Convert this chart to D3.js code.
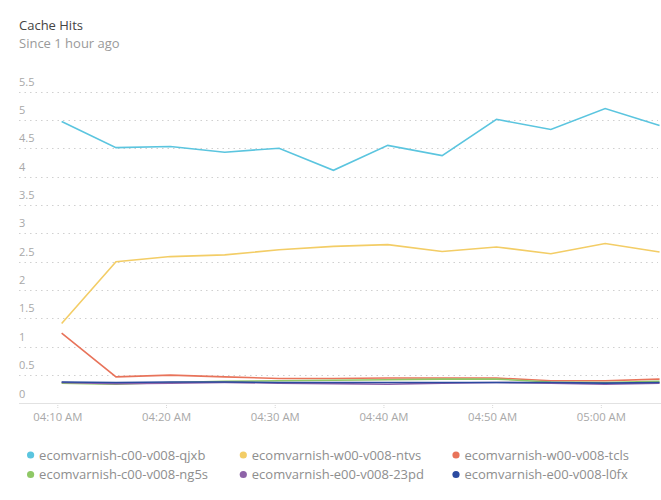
<!DOCTYPE html>
<html lang="en">
<head>
  <meta charset="UTF-8">
  <title>Cache Hits</title>
  <style>
    body{ margin: 0; background: #fff; }
    .warp{ width: 661px; height: 500px; }
    text{ font-family: "Open Sans", sans-serif; }
  </style>
</head>
<body>
  <div class="warp"></div>
  <script src="https://cdn.jsdelivr.net/npm/d3@7"></script>
  <script>
    // 12 samples, every 5 minutes starting 04:10:24
    var times = ['04:10:24','04:15:24','04:20:24','04:25:24','04:30:24','04:35:24',
                 '04:40:24','04:45:24','04:50:24','04:55:24','05:00:24','05:05:24'];
    var names = ['ecomvarnish-c00-v008-qjxb','ecomvarnish-w00-v008-ntvs','ecomvarnish-w00-v008-tcls',
                 'ecomvarnish-c00-v008-ng5s','ecomvarnish-e00-v008-23pd','ecomvarnish-e00-v008-l0fx'];
    var colors = ['#5bc5df','#f3cd66','#e8735a','#8fc866','#8e63a8','#2b4aa0'];
    var qjxb = [4.97, 4.51, 4.53, 4.43, 4.50, 4.11, 4.55, 4.37, 5.01, 4.83, 5.20, 4.90];
    var ntvs = [1.41, 2.50, 2.59, 2.62, 2.71, 2.77, 2.80, 2.68, 2.76, 2.64, 2.82, 2.67];
    var tcls = [1.24, 0.47, 0.50, 0.47, 0.44, 0.44, 0.45, 0.45, 0.45, 0.40, 0.40, 0.43];
    var ng5s = [0.36, 0.34, 0.37, 0.39, 0.40, 0.41, 0.42, 0.43, 0.43, 0.38, 0.37, 0.39];
    var p23pd = [0.37, 0.35, 0.36, 0.37, 0.36, 0.35, 0.34, 0.36, 0.37, 0.36, 0.34, 0.36];
    var l0fx = [0.38, 0.37, 0.38, 0.38, 0.37, 0.37, 0.37, 0.37, 0.37, 0.37, 0.36, 0.37];
    var yTicks = [0, 0.5, 1, 1.5, 2, 2.5, 3, 3.5, 4, 4.5, 5, 5.5];
    var xTicks = ['04:10','04:20','04:30','04:40','04:50','05:00'];

    var series = [qjxb, ntvs, tcls, ng5s, p23pd, l0fx];
    var parse = d3.timeParse('%H:%M:%S');
    var parseTick = d3.timeParse('%H:%M');

    var svg = d3.select('.warp').append('svg')
      .attr('width', 661).attr('height', 500);

    svg.append('text').attr('x', 19).attr('y', 30)
      .attr('font-size', 13).attr('fill', '#444').text('Cache Hits');
    svg.append('text').attr('x', 19).attr('y', 48)
      .attr('font-size', 13).attr('fill', '#9a9a9a').text('Since 1 hour ago');

    var left = 19, right = 661;
    var x = d3.scaleTime()
      .domain([parseTick('04:10'), parseTick('05:05')])
      .range([57.3, 655.2]);
    var y = d3.scaleLinear().domain([0, 5.5]).range([403.5, 91.5]);

    // grid + y labels
    var grid = svg.append('g');
    grid.selectAll('line').data(yTicks.slice(1)).enter().append('line')
      .attr('x1', left).attr('x2', right - 3)
      .attr('y1', function(d){ return Math.round(y(d)) + 0.5; })
      .attr('y2', function(d){ return Math.round(y(d)) + 0.5; })
      .attr('stroke', '#d0d0d0').attr('stroke-width', 1.2)
      .attr('stroke-dasharray', '1.5,4');
    grid.selectAll('text').data(yTicks).enter().append('text')
      .attr('x', left).attr('y', function(d){ return y(d) - 6; })
      .attr('font-size', 11).attr('fill', '#a8a8a8')
      .text(function(d){ return d; });

    // x axis
    var xAxis = d3.axisBottom(x)
      .tickValues(xTicks.map(function(t){ return parseTick(t); }))
      .tickFormat(d3.timeFormat('%I:%M %p'))
      .tickSize(5).tickSizeOuter(0);
    var gx = svg.append('g').attr('transform', 'translate(0,' + 403 + ')').call(xAxis);
    gx.select('.domain').remove();
    gx.append('line').attr('x1', left).attr('x2', right).attr('y1', 0.5).attr('y2', 0.5)
      .attr('stroke', '#e2e2e2');
    gx.selectAll('.tick line').attr('stroke', '#d8d8d8').attr('stroke-dasharray', '1,1');
    gx.selectAll('.tick text').attr('font-size', 11.3).attr('fill', '#a8a8a8')
      .attr('font-family', '"Open Sans", sans-serif').attr('dy', '0.85em');

    // lines
    var line = d3.line()
      .x(function(d, i){ return x(parse(times[i])); })
      .y(function(d){ return y(d); });
    svg.append('g').selectAll('path').data(series).enter().append('path')
      .attr('d', line)
      .attr('fill', 'none')
      .attr('stroke', function(d, i){ return colors[i]; })
      .attr('stroke-width', 1.6);

    // legend
    var lg = svg.append('g').selectAll('g').data(names).enter().append('g')
      .attr('transform', function(d, i){
        return 'translate(' + (30.6 + (i % 3) * 212.7) + ',' + (455 + Math.floor(i / 3) * 19.5) + ')';
      });
    lg.append('circle').attr('r', 3.6).attr('fill', function(d, i){ return colors[i]; });
    lg.append('text').attr('x', 8.5).attr('y', 4.5)
      .attr('font-size', 13).attr('fill', '#8e8e8e')
      .text(function(d){ return d; });
  </script>
</body>
</html>
